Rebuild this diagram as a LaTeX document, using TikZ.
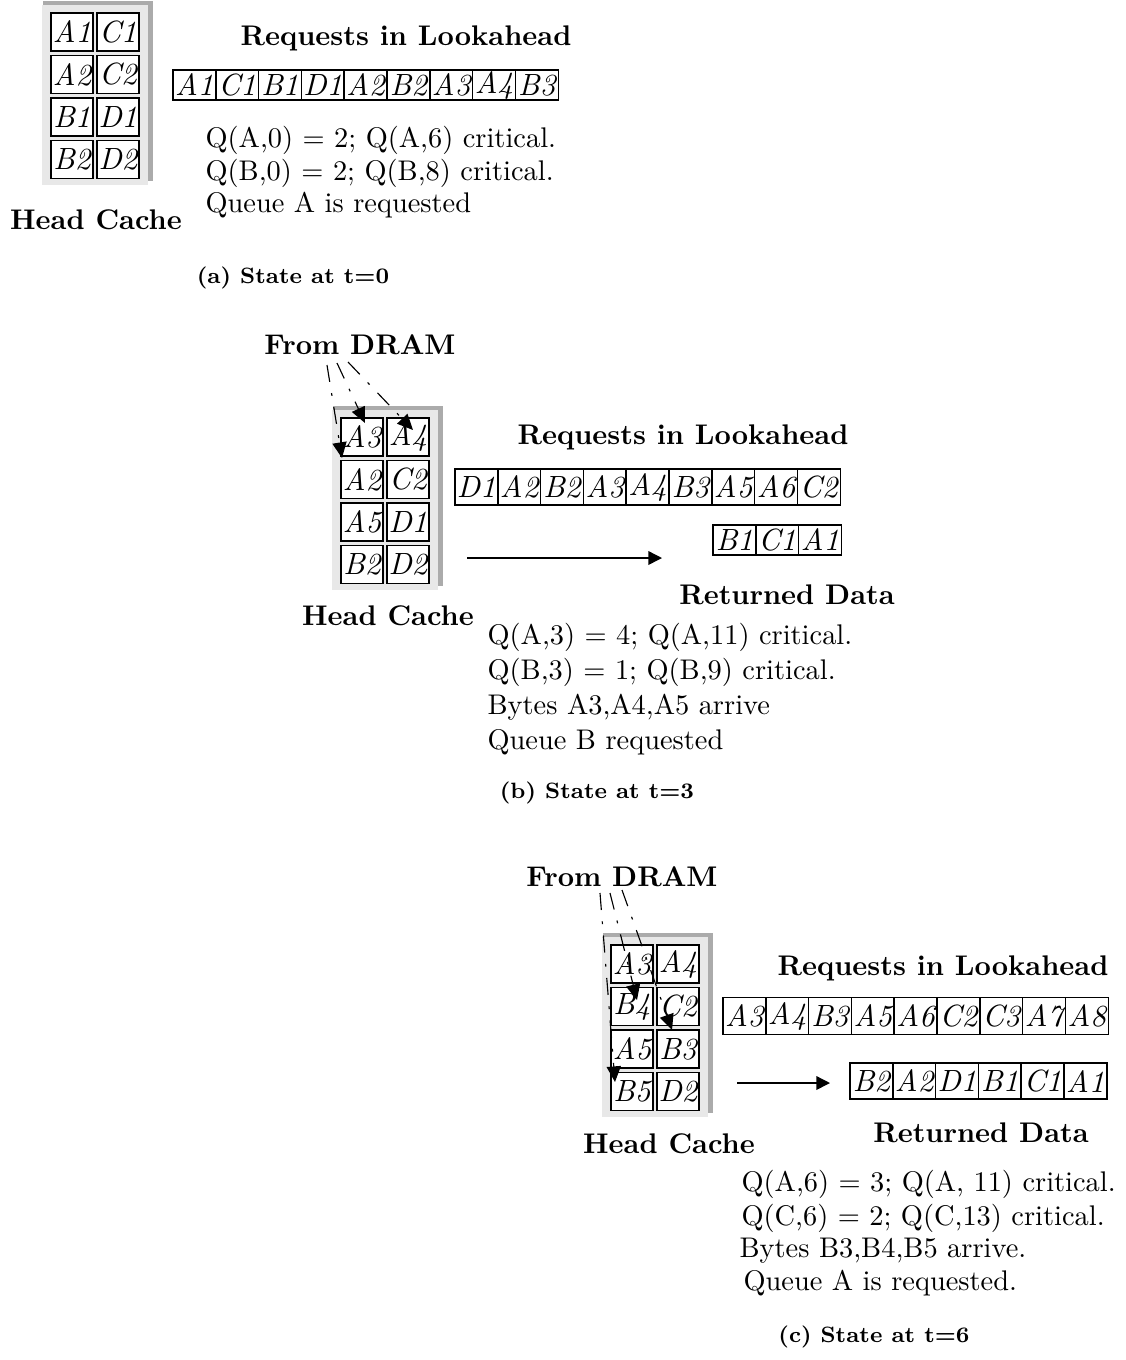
\documentclass[tikz,border=0pt]{standalone}
\usetikzlibrary{arrows.meta}
\tikzset{
  cell/.style={draw, line width=0.5pt, fill=white, inner sep=0pt, outer sep=0pt,
    minimum width=15.07pt, font=\fontsize{10.8}{12}\selectfont\itshape},
  ccell/.style={cell, minimum width=14.8pt, minimum height=13.4pt},
  head/.style={font=\bfseries, inner sep=0pt},
  subcap/.style={font=\fontsize{7.8}{9.5}\selectfont\bfseries, inner sep=0pt},
  info/.style={anchor=west, inner sep=0pt},
  flow/.style={-{Triangle[length=4.8pt,width=4.8pt]}, line width=0.5pt},
  dram/.style={-{Triangle[length=5.5pt,width=5pt]}, line width=0.4pt,
    dash pattern=on 6pt off 4pt on 1pt off 4pt},
  cachebg/.style={fill=black!9},
  cacheshadow/.style={fill=black!33},
}
\newcommand\mycache[4]{% prefix, x0, y0, labels
  \fill[cacheshadow] (#2-8,#3-12) rectangle (#2+102,#3+168);
  \fill[cachebg] (#2-9,#3-8) rectangle (#2+97,#3+172);
  \foreach \t [count=\i from 0] in {#4} {
    \pgfmathtruncatemacro\cc{mod(\i,2)}
    \pgfmathtruncatemacro\rr{div(\i,2)}
    \node[ccell] (#1\rr\cc) at ({#2+21+46*\cc},{#3+19+42.5*\rr}) {\t};
  }
}
\newcommand\myrow[5]{% prefix, left, centre y, height, labels
  \foreach \t [count=\i from 0] in {#5} {
    \node[cell, minimum height=#4] (#1\i) at ({#2+21.4+42.8*\i},#3) {\t};
  }
}
\begin{document}
\begin{tikzpicture}[x=0.352pt,y=-0.352pt]
\useasboundingbox (0,0) rectangle (1125,1360);

% ---------------- (a)
\mycache{ac}{51}{13}{A1,C1,A2,C2,B1,D1,B2,D2}
\node[head] (ahc) at (96,220) {Head Cache};
\node[head] (areq) at (406,38) {Requests in Lookahead};
\myrow{al}{173}{85}{10.6pt}{A1,C1,B1,D1,A2,B2,A3,A4,B3}
\node[info] (at1) at (205,140) {Q(A,0) = 2; Q(A,6) critical.};
\node[info] (at2) at (205,173) {Q(B,0) = 2; Q(B,8) critical.};
\node[info] (at3) at (205,205) {Queue A is requested};
\node[subcap] (acap) at (293,278) {(a) State at t=0};

% ---------------- (b)
\node[head] (bdram) at (360,345) {From DRAM};
\mycache{bc}{341}{418}{A3,A4,A2,C2,A5,D1,B2,D2}
\node[head] (bhc) at (388,616) {Head Cache};
\node[head] (breq) at (683,437) {Requests in Lookahead};
\myrow{bl}{455}{487}{12.7pt}{D1,A2,B2,A3,A4,B3,A5,A6,C2}
\myrow{br}{713}{540}{10.6pt}{B1,C1,A1}
\coordinate (bas) at (467,558);
\coordinate (bae) at (662,558);
\draw[flow] (bas) -- (bae);
\node[head] (bret) at (787,595) {Returned Data};
\node[info] (bt1) at (487,637) {Q(A,3) = 4; Q(A,11) critical.};
\node[info] (bt2) at (487,672) {Q(B,3) = 1; Q(B,9) critical.};
\node[info] (bt3) at (487,707) {Bytes A3,A4,A5 arrive};
\node[info] (bt4) at (487,742) {Queue B requested};
\node[subcap] (bcap) at (597,793) {(b) State at t=3};
\coordinate (bd1s) at (327,365); \coordinate (bd1e) at (342,458);
\coordinate (bd2s) at (337,363); \coordinate (bd2e) at (365,423);
\coordinate (bd3s) at (348,362); \coordinate (bd3e) at (413,430);
\draw[dram] (bd1s) -- (bd1e);
\draw[dram] (bd2s) -- (bd2e);
\draw[dram] (bd3s) -- (bd3e);

% ---------------- (c)
\node[head] (cdram) at (622,877) {From DRAM};
\mycache{cc}{611}{945}{A3,A4,B4,C2,A5,B3,B5,D2}
\node[head] (chc) at (669,1144) {Head Cache};
\node[head] (creq) at (943,968) {Requests in Lookahead};
\myrow{cl}{723}{1016}{13pt}{A3,A4,B3,A5,A6,C2,C3,A7,A8}
\myrow{cr}{850}{1081}{12.7pt}{B2,A2,D1,B1,C1,A1}
\coordinate (cas) at (737,1083);
\coordinate (cae) at (830,1083);
\draw[flow] (cas) -- (cae);
\node[head] (cret) at (981,1133) {Returned Data};
\node[info] (ct1) at (741,1184) {Q(A,6) = 3; Q(A, 11) critical.};
\node[info] (ct2) at (741,1218) {Q(C,6) = 2; Q(C,13) critical.};
\node[info] (ct3) at (739,1251) {Bytes B3,B4,B5 arrive.};
\node[info] (ct4) at (743,1283) {Queue A is requested.};
\node[subcap] (ccap) at (874,1337) {(c) State at t=6};
\coordinate (cd1s) at (600,893); \coordinate (cd1e) at (615,1082);
\coordinate (cd2s) at (610,893); \coordinate (cd2e) at (637,1000);
\coordinate (cd3s) at (622,890); \coordinate (cd3e) at (672,1030);
\draw[dram] (cd1s) -- (cd1e);
\draw[dram] (cd2s) -- (cd2e);
\draw[dram] (cd3s) -- (cd3e);
\end{tikzpicture}
\end{document}
